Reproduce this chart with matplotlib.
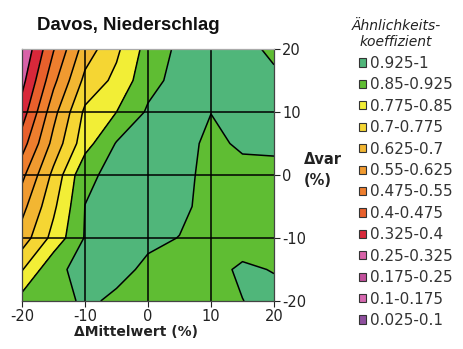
import numpy as np
import matplotlib
matplotlib.use("Agg")
import matplotlib.pyplot as plt
from matplotlib.patches import Patch

plt.rcParams['font.family'] = ['DejaVu Sans']
plt.rcParams['axes.unicode_minus'] = False

# grid of the scenarios (percent change of mean and of variance)
mittelwert = [-20, -15, -10, -5, 0, 5, 10, 15, 20]
var = [-20, -15, -10, -5, 0, 5, 10, 15, 20]

# similarity coefficient, one row per var value (from -20 up to 20)
row_m20 = [0.88, 0.90, 0.935, 0.915, 0.90, 0.89, 0.90, 0.924, 0.945]
row_m15 = [0.77, 0.91, 0.945, 0.94, 0.915, 0.90, 0.905, 0.935, 0.922]
row_m10 = [0.66, 0.80, 0.93, 0.94, 0.935, 0.924, 0.90, 0.895, 0.90]
row_m05 = [0.60, 0.76, 0.926, 0.945, 0.94, 0.935, 0.91, 0.90, 0.905]
row_000 = [0.53, 0.72, 0.91, 0.945, 0.945, 0.94, 0.91, 0.905, 0.91]
row_p05 = [0.44, 0.65, 0.82, 0.93, 0.94, 0.95, 0.91, 0.935, 0.935]
row_p10 = [0.36, 0.60, 0.79, 0.85, 0.935, 0.95, 0.926, 0.93, 0.935]
row_p15 = [0.30, 0.53, 0.72, 0.795, 0.90, 0.95, 0.95, 0.94, 0.935]
row_p20 = [0.255, 0.47, 0.66, 0.76, 0.88, 0.94, 0.95, 0.94, 0.915]

levels = [0.025, 0.1, 0.175, 0.25, 0.325, 0.4, 0.475, 0.55, 0.625,
          0.7, 0.775, 0.85, 0.925, 1.0]
level_colors = ['#8e4f9e', '#d668b0', '#c2509c', '#d862a8', '#d8283a',
                '#e8602c', '#ee7e2e', '#f09a30', '#f2b632', '#f5d633',
                '#f2ee36', '#5fbd33', '#50b67a']
legend_labels = ['0.925-1', '0.85-0.925', '0.775-0.85', '0.7-0.775',
                 '0.625-0.7', '0.55-0.625', '0.475-0.55', '0.4-0.475',
                 '0.325-0.4', '0.25-0.325', '0.175-0.25', '0.1-0.175',
                 '0.025-0.1']

Z = np.array([row_m20, row_m15, row_m10, row_m05, row_000,
              row_p05, row_p10, row_p15, row_p20])
X, Y = np.meshgrid(mittelwert, var)

fig = plt.figure(figsize=(4.64, 3.49), dpi=100)
ax = fig.add_axes([22 / 464, 1 - 301 / 349, 252 / 464, 252 / 349])

ax.contourf(X, Y, Z, levels=levels, colors=level_colors)
ax.contour(X, Y, Z, levels=levels, colors='black', linewidths=1.1)

for v in [-10, 0, 10]:
    ax.axvline(v, color='black', lw=1.1)
    ax.axhline(v, color='black', lw=1.1)

ax.set_xlim(-20, 20)
ax.set_ylim(-20, 20)
ax.set_xticks([-20, -10, 0, 10, 20])
ax.set_yticks([-20, -10, 0, 10, 20])
ax.yaxis.tick_right()
ax.tick_params(direction='out', length=4, width=0.8, labelsize=10.5,
               colors='#222222', pad=2)
for s in ax.spines.values():
    s.set_color('#444444')
    s.set_linewidth(0.9)
ax.spines['top'].set_color('#aaaaaa')

ax.set_xlabel('ΔMittelwert (%)', fontsize=10, fontweight='bold', color='#222222')
ax.xaxis.set_label_coords(0.452, -0.095)
ax.text(1.12, 0.52, 'Δvar\n(%)', transform=ax.transAxes, ha='left', va='center',
        fontsize=10.5, fontweight='bold', color='#222222', linespacing=1.55)

fig.text(37 / 464, 1 - 25 / 349, 'Davos, Niederschlag', fontsize=13.4,
         family='Liberation Sans', fontweight='bold', va='center', color='#111111')

# legend title set apart so it can sit a bit left of the entries
fig.text(396 / 464, 1 - 34 / 349, 'Ähnlichkeits-\nkoeffizient', fontsize=10,
         style='italic', ha='center', va='center', linespacing=1.2,
         color='#222222')

handles = [Patch(facecolor=c, edgecolor='#333333', linewidth=0.8)
           for c in level_colors[::-1]]
leg = fig.legend(handles, legend_labels, loc='upper left',
                 bbox_to_anchor=(359 / 464, 1 - 56 / 349), frameon=False,
                 borderpad=0, borderaxespad=0,
                 fontsize=11, handlelength=0.45, handleheight=0.45,
                 handletextpad=0.3, labelspacing=0.42)
for t in leg.get_texts():
    t.set_color('#333333')

fig.savefig('out.png', dpi=100)
